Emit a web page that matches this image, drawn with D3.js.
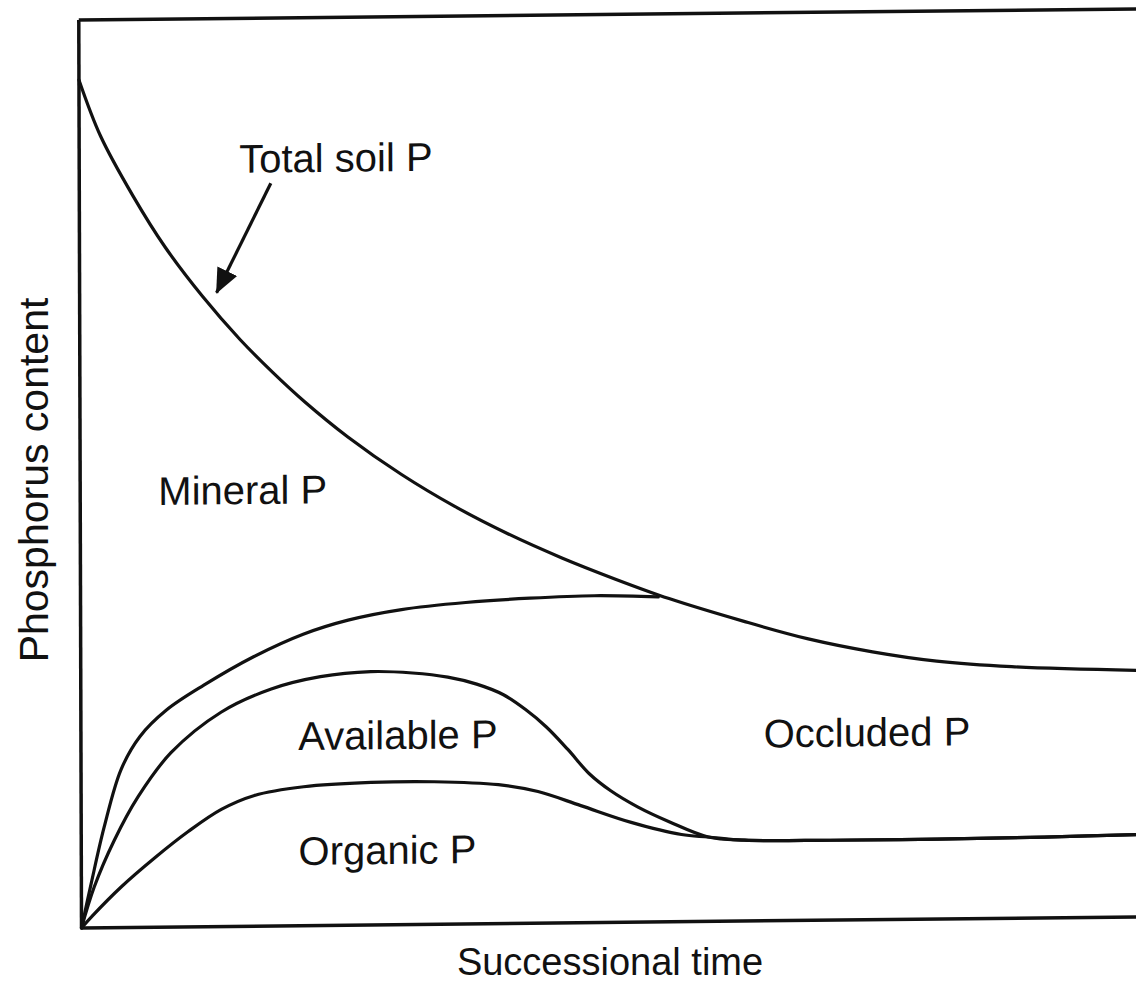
<!DOCTYPE html>
<html>
<head>
<meta charset="utf-8">
<script src="https://cdn.jsdelivr.net/npm/d3@7/dist/d3.min.js"></script>
<style>
  html, body { margin: 0; padding: 0; background: #fff; }
  svg { display: block; }
  text { font-family: "Liberation Sans", Arial, Helvetica, sans-serif; fill: #111; }
</style>
</head>
<body>
<script>
// ---- Data (successional time 0-100, phosphorus content 0-100) ----
const totalSoilP = [
  [0, 93.4], [2, 87.2], [5, 80.6], [8, 74.9], [11.5, 69.4], [15, 64.6], [18, 61.0],
  [21, 57.7], [25, 53.8], [30, 49.6], [35, 46.0], [40, 42.9], [45, 40.2], [50, 37.8],
  [55, 35.6], [62, 33.0], [68, 31.0], [74, 29.5], [80, 28.4], [87, 27.7], [100, 27.1]
];
const mineralBoundary = [
  [0, 0], [0.9, 4.8], [2.15, 11.1], [3.74, 17.4], [5.5, 21.0], [8, 23.9], [11.5, 26.6],
  [16.2, 29.7], [20.8, 32.1], [25, 33.6], [30, 34.7], [36, 35.4], [42, 35.8], [48, 36.0],
  [54, 35.8]
];
const availableTop = [
  [0, 0], [1.2, 4.5], [3.08, 9.6], [5.33, 14.4], [8.41, 19.2], [13.1, 23.6], [17.8, 26.1],
  [22.4, 27.4], [27.1, 27.9], [31, 27.7], [34.3, 27.2], [37, 26.4], [39.5, 25.2],
  [41.5, 23.6], [43.5, 21.6], [45.5, 19.1], [47.5, 16.4], [49.5, 14.5], [52, 12.7],
  [55, 11.0], [58.6, 9.3], [62, 8.9], [70, 8.8], [80, 8.8], [90, 8.9], [100, 9.1]
];
const organicTop = [
  [0, 0], [1, 1.3], [3.74, 4.5], [6.82, 7.6], [10, 10.5], [13.1, 12.9], [16.2, 14.4],
  [20.8, 15.3], [27.1, 15.7], [33, 15.7], [39, 15.3], [42.7, 14.5], [46.7, 12.9],
  [51.4, 11.0], [56.1, 9.6], [58.6, 9.3], [62, 8.9], [70, 8.8], [80, 8.8], [90, 8.9],
  [100, 9.1]
];
const regionLabels = [
  { text: "Total soil P", x: 14.95, y: 83.0 },
  { text: "Mineral P", x: 7.3, y: 46.5 },
  { text: "Available P", x: 20.3, y: 19.35 },
  { text: "Organic P", x: 20.3, y: 6.7 },
  { text: "Occluded P", x: 63.8, y: 19.1 }
];
const arrowFrom = [17.9, 81.8];
const arrowTo = [12.8, 69.8];
const xTitle = "Successional time";
const yTitle = "Phosphorus content";

// ---- Drawing ----
const W = 1136, H = 987;
const svg = d3.select("body").append("svg").attr("width", W).attr("height", H);

const x = d3.scaleLinear().domain([0, 100]).range([0, 1070]);
const y = d3.scaleLinear().domain([0, 100]).range([0, -908]);

svg.append("defs").append("marker")
  .attr("id", "arrowhead")
  .attr("viewBox", "0 -12 26 24")
  .attr("refX", 24).attr("refY", 0)
  .attr("markerUnits", "userSpaceOnUse")
  .attr("markerWidth", 26).attr("markerHeight", 24)
  .attr("orient", "auto")
  .append("path").attr("d", "M0,-11L25,0L0,11Z").attr("fill", "#111");

// plot group with a slight skew, as in the scanned original
const g = svg.append("g").attr("transform", "translate(81.5,928) matrix(1,-0.0105,0.003,1,0,0)");

// frame
const frame = g.append("g").attr("stroke", "#111").attr("stroke-width", 3.5);
frame.append("line").attr("x1", x(0)).attr("x2", x(100)).attr("y1", y(0)).attr("y2", y(0));
frame.append("line").attr("x1", x(0)).attr("x2", x(100)).attr("y1", y(100)).attr("y2", y(100));
frame.append("line").attr("x1", x(0)).attr("x2", x(0)).attr("y1", y(0)).attr("y2", y(100));
frame.append("line").attr("x1", x(100)).attr("x2", x(100)).attr("y1", y(0)).attr("y2", y(100));

const line = d3.line().x(d => x(d[0])).y(d => y(d[1])).curve(d3.curveCatmullRom.alpha(0.5));

[totalSoilP, mineralBoundary, availableTop, organicTop].forEach(s => {
  g.append("path").datum(s).attr("d", line)
    .attr("fill", "none").attr("stroke", "#111").attr("stroke-width", 3.2)
    .attr("stroke-linejoin", "round").attr("stroke-linecap", "round");
});

// arrow
g.append("line")
  .attr("x1", x(arrowFrom[0])).attr("y1", y(arrowFrom[1]))
  .attr("x2", x(arrowTo[0])).attr("y2", y(arrowTo[1]))
  .attr("stroke", "#111").attr("stroke-width", 3.2)
  .attr("marker-end", "url(#arrowhead)");

// region labels
g.selectAll("text.region").data(regionLabels).join("text")
  .attr("class", "region")
  .attr("x", d => x(d.x)).attr("y", d => y(d.y))
  .attr("font-size", 40)
  .text(d => d.text);

// axis titles
svg.append("text")
  .attr("transform", "translate(48,480) rotate(-90)")
  .attr("text-anchor", "middle").attr("font-size", 41)
  .text(yTitle);
svg.append("text")
  .attr("x", 610).attr("y", 975)
  .attr("text-anchor", "middle").attr("font-size", 38)
  .text(xTitle);
</script>
</body>
</html>
